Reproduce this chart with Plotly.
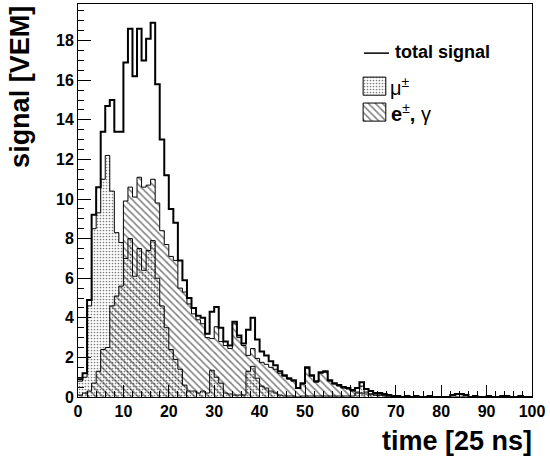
import plotly.graph_objects as go

# bin edges (time in units of 25 ns), 100 bins of width 1
edges = list(range(0, 101))

total = [0.9, 1.2, 4.9, 9.2, 10.6, 13.4, 14.7, 15.0, 13.4, 13.4,
         16.9, 18.6, 16.2, 18.6, 17.0, 18.1, 18.9, 15.8, 13.0, 11.2,
         9.5, 8.8, 6.9, 5.9, 5.0, 4.5, 4.1, 4.0, 3.2, 4.3,
         4.55, 3.5, 2.8, 2.6, 3.8, 3.1, 2.7, 3.4, 4.0, 2.9,
         2.3, 2.1, 1.8, 1.6, 1.3, 1.1, 0.95, 0.85, 0.45, 0.7,
         1.5, 1.1, 0.8, 1.25, 1.3, 0.85, 0.7, 0.6, 0.5, 0.45,
         0.35, 0.45, 0.75, 0.4, 0.3, 0.2, 0.2, 0.15, 0.1, 0.05,
         0.05, 0.0, 0.05, 0.0, 0.05, 0.0, 0.0, 0.05, 0.0, 0.0,
         0.0, 0.0, 0.1, 0.15, 0.15, 0.1, 0.0, 0.05, 0.0, 0.0,
         0.05, 0.0, 0.0, 0.05, 0.05, 0.0, 0.0, 0.05, 0.0, 0.0]

muon = [0.8, 1.0, 4.6, 8.5, 9.3, 11.0, 12.2, 10.4, 8.3, 7.8,
        7.0, 8.0, 6.1, 7.5, 6.4, 7.4, 7.9, 6.0, 4.6, 3.5,
        2.4, 1.9, 1.4, 0.6, 0.3, 0.3, 0.2, 0.3, 0.2, 1.35,
        1.0, 0.7, 0.2, 0.15, 0.1, 0.1, 0.1, 1.3, 1.55, 0.95,
        0.55, 0.45, 0.3, 0.2, 0.1, 0.05, 0.05, 0.05, 0.0, 0.05,
        0.05, 0.05, 0.05, 0.05, 0.05, 0.05, 0.05, 0.05, 0.05, 0.05,
        0.05, 0.2, 0.55, 0.25, 0.15, 0.1, 0.1, 0.05, 0.05, 0.0,
        0.0, 0.0, 0.0, 0.0, 0.0, 0.0, 0.0, 0.0, 0.0, 0.0,
        0.0, 0.0, 0.0, 0.0, 0.0, 0.0, 0.0, 0.0, 0.0, 0.0,
        0.0, 0.0, 0.0, 0.0, 0.0, 0.0, 0.0, 0.0, 0.0, 0.0]

em = [0.1, 0.2, 0.3, 0.7, 1.3, 2.4, 2.5, 4.6, 5.1, 5.6,
      9.9, 10.6, 10.1, 11.1, 10.6, 10.7, 11.0, 9.8, 8.4, 7.7,
      7.1, 6.9, 5.5, 5.3, 4.7, 4.2, 3.9, 3.7, 3.0, 2.95,
      3.55, 2.8, 2.6, 2.45, 3.7, 3.0, 2.6, 2.1, 2.45, 1.95,
      1.75, 1.65, 1.5, 1.4, 1.2, 1.05, 0.9, 0.8, 0.45, 0.65,
      1.45, 1.05, 0.75, 1.2, 1.25, 0.8, 0.65, 0.55, 0.45, 0.4,
      0.3, 0.25, 0.2, 0.15, 0.15, 0.1, 0.1, 0.1, 0.05, 0.05,
      0.05, 0.0, 0.05, 0.0, 0.05, 0.0, 0.0, 0.05, 0.0, 0.0,
      0.0, 0.0, 0.1, 0.15, 0.15, 0.1, 0.0, 0.05, 0.0, 0.0,
      0.05, 0.0, 0.0, 0.05, 0.05, 0.0, 0.0, 0.05, 0.0, 0.0]

x_ticks = [0, 10, 20, 30, 40, 50, 60, 70, 80, 90, 100]
y_ticks = [0, 2, 4, 6, 8, 10, 12, 14, 16, 18]

FONT = "Liberation Sans"


def step(vals):
    return list(vals) + [vals[-1]]


dots = dict(shape=".", fgcolor="black", bgcolor="rgba(0,0,0,0)", size=3, solidity=0.25)
hatch = dict(shape="\\", fgcolor="black", bgcolor="rgba(0,0,0,0)", size=5, solidity=0.3)

fig = go.Figure()
fig.add_trace(go.Scatter(x=edges, y=step(muon), mode="lines",
                         line=dict(shape="hv", color="black", width=1),
                         fill="tozeroy", fillcolor="rgba(0,0,0,0)", fillpattern=dots,
                         showlegend=False, hoverinfo="skip"))
fig.add_trace(go.Scatter(x=edges, y=step(em), mode="lines",
                         line=dict(shape="hv", color="black", width=1),
                         fill="tozeroy", fillcolor="rgba(0,0,0,0)", fillpattern=hatch,
                         showlegend=False, hoverinfo="skip"))
fig.add_trace(go.Scatter(x=edges, y=step(total), mode="lines",
                         line=dict(shape="hv", color="black", width=2),
                         showlegend=False, hoverinfo="skip"))


# legend boxes on an overlay axis in plot-area fractions
def box(x0, x1, y0, y1, pat):
    fig.add_trace(go.Scatter(x=[x0, x1, x1, x0, x0], y=[y0, y0, y1, y1, y0],
                             xaxis="x2", yaxis="y2", mode="lines",
                             line=dict(color="black", width=1),
                             fill="toself", fillcolor="rgba(0,0,0,0)", fillpattern=pat,
                             showlegend=False, hoverinfo="skip"))


box(0.628, 0.678, 0.768, 0.814, dots)
box(0.628, 0.678, 0.702, 0.748, hatch)

W, H = 550, 458
fig.update_layout(
    width=W, height=H,
    margin=dict(l=78, r=18, t=4, b=61, pad=0),
    paper_bgcolor="white", plot_bgcolor="white",
    font=dict(family=FONT, color="black"),
    xaxis=dict(range=[0, 100], tickvals=x_ticks, ticks="inside", ticklen=12, tickwidth=1,
               tickcolor="black", showline=True, linecolor="black", linewidth=1, mirror=True,
               showgrid=False, zeroline=False,
               tickfont=dict(family=FONT, size=16, weight="bold", color="black"),
               minor=dict(ticks="inside", ticklen=6, dtick=2, tickcolor="black", showgrid=False)),
    yaxis=dict(range=[0, 19.85], tickvals=y_ticks, ticks="inside", ticklen=13, tickwidth=1,
               tickcolor="black", showline=True, linecolor="black", linewidth=1, mirror=True,
               showgrid=False, zeroline=False,
               tickfont=dict(family=FONT, size=16, weight="bold", color="black"),
               minor=dict(ticks="inside", ticklen=6, dtick=0.5, tickcolor="black", showgrid=False)),
    xaxis2=dict(overlaying="x", range=[0, 1], visible=False, fixedrange=True),
    yaxis2=dict(overlaying="y", range=[0, 1], visible=False, fixedrange=True),
    shapes=[dict(type="line", xref="paper", yref="paper", x0=0.630, x1=0.685,
                 y0=0.875, y1=0.875, line=dict(color="black", width=1.5))],
    annotations=[
        dict(text="<b>time [25 ns]</b>", xref="paper", yref="paper", x=1.005, y=-0.112,
             xanchor="right", yanchor="middle", showarrow=False,
             font=dict(family=FONT, size=27, color="black")),
        dict(text="<b>signal [VEM]</b>", xref="paper", yref="paper", x=-0.128, y=1.0,
             xanchor="center", yanchor="top", textangle=-90, showarrow=False,
             font=dict(family=FONT, size=27, color="black")),
        dict(text="<b>total signal</b>", xref="paper", yref="paper", x=0.694, y=0.8766,
             xanchor="left", yanchor="middle", showarrow=False,
             font=dict(family=FONT, size=18, color="black")),
        dict(text="μ<sup>±</sup>", xref="paper", yref="paper", x=0.683, y=0.791,
             xanchor="left", yanchor="middle", showarrow=False,
             font=dict(family=FONT, size=20, color="black")),
        dict(text="<b>e</b><sup>±</sup><b>,</b> γ", xref="paper", yref="paper", x=0.685, y=0.725,
             xanchor="left", yanchor="middle", showarrow=False,
             font=dict(family=FONT, size=20, color="black")),
    ],
)

fig.write_html("out.html", config={"displayModeBar": False},
               post_script="document.body.style.margin='0px';")
